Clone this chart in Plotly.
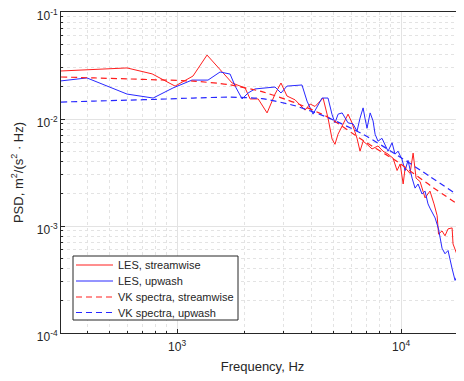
import plotly.graph_objects as go

# ---- data ----
les_stream_f = [303, 598, 774, 980, 1178, 1361, 1762, 2013, 2119, 2303, 2523, 2738, 2911, 3096,
                3365, 3726, 3927, 4130, 4487, 4721, 4920, 5070, 5230, 5510, 5800, 6040, 6360, 6560,
                6770, 7050, 7420, 7890, 8310, 8750, 9210, 9600, 9910, 10220, 10430, 10970, 11320,
                11670, 12160, 12800, 13460, 14030, 14490, 14700, 15240, 15710, 16210, 16900, 17060,
                17780, 18340, 18710, 19100]
les_stream_p = [0.0281, 0.0300, 0.0264, 0.0203, 0.0252, 0.0396, 0.0217, 0.0195, 0.0154, 0.0154,
                0.0114, 0.0171, 0.0217, 0.0164, 0.0151, 0.0121, 0.0138, 0.0131, 0.0157, 0.0102,
                0.0065, 0.0058, 0.0072, 0.0090, 0.0111, 0.0092, 0.0066, 0.0050, 0.0062, 0.0058,
                0.00525, 0.0056, 0.0050, 0.0047, 0.0043, 0.0033, 0.0038, 0.00247, 0.0035, 0.0031,
                0.0048, 0.0028, 0.0026, 0.00183, 0.00212, 0.00161, 0.00125, 0.00084, 0.00090,
                0.00081, 0.00094, 0.00096, 0.00068, 0.00054, 0.00060, 0.00044, 0.00038]

les_up_f = [303, 396, 598, 782, 959, 1166, 1375, 1556, 1725, 1817, 1952, 2075, 2230, 2523, 2738,
            2911, 3096, 3612, 3804, 4046, 4217, 4439, 4721, 4920, 5070, 5236, 5458, 5623, 5800,
            6104, 6360, 6560, 6770, 6900, 7050, 7280, 7500, 7660, 7890, 8220, 8480, 8750, 9120,
            9400, 9700, 10090, 10430, 10740, 11200, 11550, 11910, 12410, 12800, 13190, 13460,
            14190, 14700, 15240, 15710, 16210, 16900, 17420, 17780, 18340, 18900, 19100]
les_up_p = [0.0227, 0.0242, 0.0171, 0.0157, 0.0195, 0.0231, 0.0231, 0.0275, 0.0263, 0.0203,
            0.0154, 0.0175, 0.0191, 0.0195, 0.0199, 0.0175, 0.0203, 0.0208, 0.0147, 0.0111,
            0.0131, 0.0157, 0.0157, 0.0110, 0.0092, 0.0111, 0.0114, 0.0102, 0.0092, 0.0090,
            0.0077, 0.0102, 0.0127, 0.0102, 0.0082, 0.0114, 0.0096, 0.0072, 0.0062, 0.0066,
            0.0058, 0.0050, 0.0060, 0.0047, 0.0050, 0.0042, 0.0033, 0.0041, 0.0028, 0.00226,
            0.00247, 0.00199, 0.00212, 0.00161, 0.00147, 0.00119, 0.00094, 0.00062, 0.00055,
            0.00059, 0.00040, 0.00031, 0.00034, 0.00029, 0.00021, 0.00023]

vk_f = [303, 426, 598, 840, 1178, 1690, 2395, 3365, 4721, 6770, 9600, 13460, 19100]
vk_stream_p = [0.0247, 0.0242, 0.0237, 0.0232, 0.0226, 0.0210, 0.0180, 0.0142, 0.0104, 0.0063,
               0.0040, 0.0024, 0.00146]
vk_up_p = [0.0144, 0.0147, 0.0150, 0.0153, 0.0157, 0.0160, 0.0155, 0.0133, 0.0103, 0.0072,
           0.0046, 0.0029, 0.00177]

series_names = ["LES, streamwise", "LES, upwash", "VK spectra, streamwise", "VK spectra, upwash"]

y_ticks = [1e-4, 1e-3, 1e-2, 1e-1]
y_ticktext = ["10<sup>-4</sup>", "10<sup>-3</sup>", "10<sup>-2</sup>", "10<sup>-1</sup>"]
x_ticks = [1e3, 1e4]
x_ticktext = ["10<sup>3</sup>", "10<sup>4</sup>"]


def minor_vals(lo_exp, hi_exp):
    return [m * 10 ** e for e in range(lo_exp, hi_exp) for m in range(2, 10)]


RED = "rgb(255,30,30)"
BLUE = "rgb(40,40,255)"
TXT = "#262626"
DASH = "6px,4px"

styles = [dict(color=RED, width=1), dict(color=BLUE, width=1),
          dict(color=RED, width=1.2, dash=DASH), dict(color=BLUE, width=1.2, dash=DASH)]

fig = go.Figure()
fig.add_trace(go.Scatter(x=les_stream_f, y=les_stream_p, mode="lines", name=series_names[0],
                         line=styles[0], showlegend=False))
fig.add_trace(go.Scatter(x=les_up_f, y=les_up_p, mode="lines", name=series_names[1],
                         line=styles[1], showlegend=False))
fig.add_trace(go.Scatter(x=vk_f, y=vk_stream_p, mode="lines", name=series_names[2],
                         line=dict(**styles[2], shape="spline", smoothing=0.6), showlegend=False))
fig.add_trace(go.Scatter(x=vk_f, y=vk_up_p, mode="lines", name=series_names[3],
                         line=dict(**styles[3], shape="spline", smoothing=0.6), showlegend=False))

# page has an 8px body margin; plot area target in page pixels:
OFF = 8
W, H = 464, 381
L, R, T, B = 61, 464, 12, 333


def px(x):
    return (x - L) / (R - L)


def py(y):
    return (B - y) / (B - T)


shapes = [dict(type="rect", xref="paper", yref="paper", x0=px(73), x1=px(238), y0=py(320), y1=py(256),
               line=dict(color=TXT, width=1), fillcolor="white", layer="above")]
annotations = []
rows = [265, 281, 297, 312.5]
for name, st, ry in zip(series_names, styles, rows):
    shapes.append(dict(type="line", xref="paper", yref="paper", x0=px(76), x1=px(113),
                       y0=py(ry), y1=py(ry), line=st, layer="above"))
    annotations.append(dict(xref="paper", yref="paper", x=px(116), y=py(ry), text=name,
                            showarrow=False, xanchor="left", yanchor="middle",
                            font=dict(size=11, color=TXT)))

fig.update_layout(
    width=W - OFF, height=H - OFF,
    margin=dict(l=L - OFF, r=W - R, t=T - OFF, b=H - B),
    paper_bgcolor="white", plot_bgcolor="white",
    font=dict(family="Liberation Sans, Arial, sans-serif", size=12, color=TXT),
    showlegend=False,
    shapes=shapes, annotations=annotations,
)
fig.update_xaxes(
    type="log", range=[2.482, 4.281], automargin=False,
    tickmode="array", tickvals=x_ticks, ticktext=x_ticktext,
    ticks="inside", ticklen=4, tickcolor=TXT, tickfont=dict(size=12, color=TXT),
    ticklabelstandoff=3,
    showline=True, linecolor=TXT, linewidth=1, mirror=True,
    showgrid=True, gridcolor="#e3e3e3", gridwidth=1,
    minor=dict(tickmode="array", tickvals=minor_vals(2, 5), ticks="inside", ticklen=2,
               tickcolor=TXT, showgrid=True, gridcolor="#e3e3e3", griddash="dot", gridwidth=1),
    title=dict(text="Frequency, Hz", font=dict(size=13, color=TXT), standoff=8),
    zeroline=False,
)
fig.update_yaxes(
    type="log", range=[-4, -1], automargin=False,
    tickmode="array", tickvals=y_ticks, ticktext=y_ticktext,
    ticks="inside", ticklen=4, tickcolor=TXT, tickfont=dict(size=12, color=TXT),
    ticklabelshift=4, ticklabeloverflow="allow",
    showline=True, linecolor=TXT, linewidth=1, mirror=False,
    showgrid=True, gridcolor="#e3e3e3", gridwidth=1,
    minor=dict(tickmode="array", tickvals=minor_vals(-4, -1), ticks="inside", ticklen=2,
               tickcolor=TXT, showgrid=True, gridcolor="#e3e3e3", griddash="dot", gridwidth=1),
    title=dict(text="PSD, m<sup>2</sup>/(s<sup>2</sup> · Hz)", font=dict(size=13, color=TXT), standoff=10),
    zeroline=False,
)

fig.write_html("out.html")
